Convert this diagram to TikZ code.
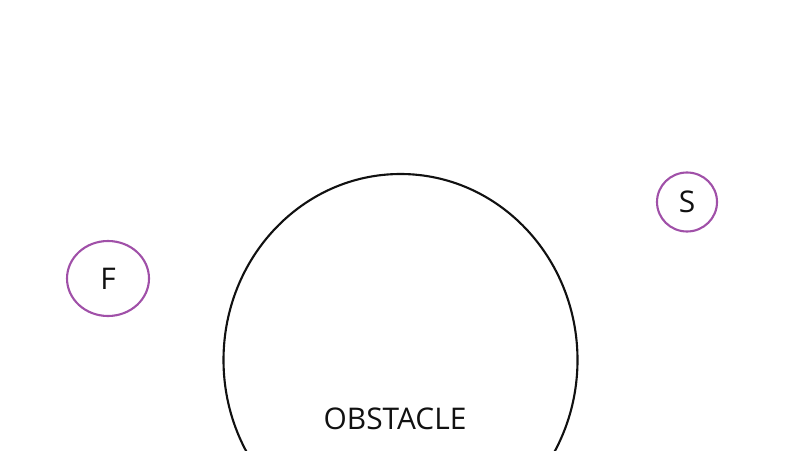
\documentclass[tikz,border=0pt]{standalone}
\usepackage{fontspec}
\setmainfont{Open Sans}
\usepackage{xcolor}
\usetikzlibrary{shapes.geometric}
\definecolor{PtPurple}{HTML}{A050A8}
\definecolor{PtInk}{HTML}{111111}

\begin{document}
\begin{tikzpicture}[x=1cm,y=1cm,
  obstacle/.style={ellipse,draw=PtInk,line width=0.6pt,inner sep=0pt,minimum width=3.54cm,minimum height=3.72cm},
  point/.style={ellipse,draw=PtPurple,line width=0.6pt,inner sep=0pt,text=PtInk,font=\fontsize{8.5}{10}\selectfont},
  tag/.style={text=PtInk,inner sep=0pt,font=\fontsize{8.5}{10}\selectfont}]
\path[use as bounding box] (0,0) rectangle (8.00,4.50);
\node[obstacle] (obs) at (4.005,0.90) {};
\node[tag] (obstxt) at (3.95,0.31) {OBSTACLE};
\node[point,minimum width=0.82cm,minimum height=0.75cm] (f) at (1.08,1.715) {F};
\node[point,minimum width=0.60cm,minimum height=0.59cm] (s) at (6.87,2.48) {S};
\end{tikzpicture}
\end{document}
